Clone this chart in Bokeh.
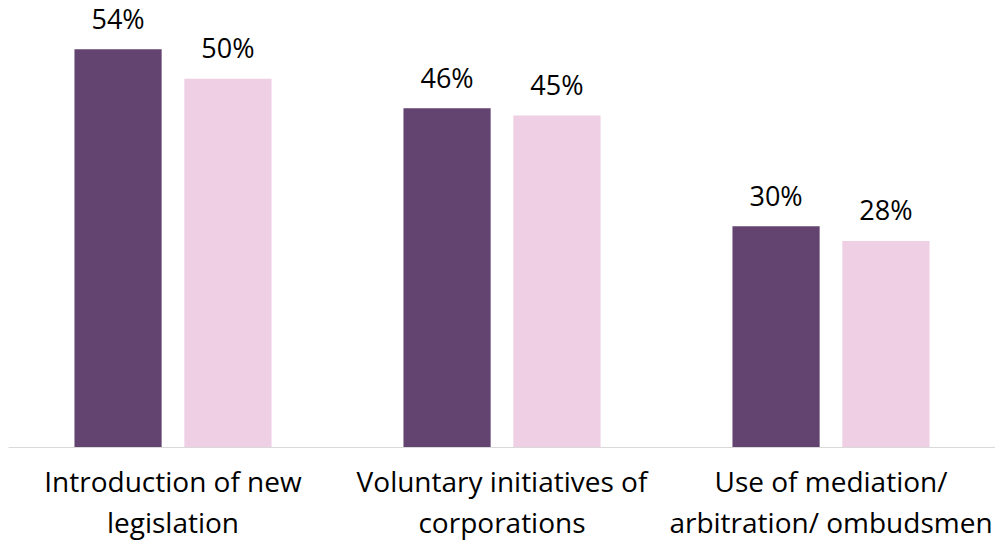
from bokeh.plotting import figure
from bokeh.models import ColumnDataSource, Range1d, FactorRange
from bokeh.transform import dodge
from bokeh.core.properties import value
from bokeh.embed import file_html
from bokeh.resources import INLINE

categories = ["Introduction of new\nlegislation",
              "Voluntary initiatives of\ncorporations",
              "Use of mediation/\narbitration/ ombudsmen"]
series_a = [54, 46, 30]
series_b = [50, 45, 28]

src = ColumnDataSource(dict(
    cat=categories,
    a=series_a,
    b=series_b,
    a_lbl=[f"{v}%" for v in series_a],
    b_lbl=[f"{v}%" for v in series_b],
))

p = figure(width=995, height=544, x_range=FactorRange(*categories),
           y_range=Range1d(0, 60.6), output_backend="svg",
           toolbar_location=None, min_border_left=8, min_border_right=0,
           min_border_top=0, min_border_bottom=97)
p.outline_line_color = None
p.background_fill_color = "white"
p.border_fill_color = "white"
p.xgrid.visible = False
p.ygrid.visible = False
p.yaxis.visible = False

dark = "#634370"
light = "#EECFE3"
off = 0.167
w = 0.265
p.vbar(x=dodge("cat", -off, range=p.x_range), top="a", width=w, bottom=0,
       source=src, fill_color=dark, line_color=None)
p.vbar(x=dodge("cat", off, range=p.x_range), top="b", width=w, bottom=0,
       source=src, fill_color=light, line_color=None)

fname = "Open Sans"
font = value(fname)
p.text(x=dodge("cat", -off, range=p.x_range), y="a", text="a_lbl", source=src,
       text_align="center", text_baseline="alphabetic", y_offset=-31,
       text_font=font, text_font_size="27px", text_color="#000000")
p.text(x=dodge("cat", off, range=p.x_range), y="b", text="b_lbl", source=src,
       text_align="center", text_baseline="alphabetic", y_offset=-31,
       text_font=font, text_font_size="27px", text_color="#000000")

ax = p.xaxis[0]
ax.axis_line_color = "#D9D9D9"
ax.axis_line_width = 1
ax.major_tick_line_color = None
ax.minor_tick_line_color = None
ax.major_tick_out = 0
ax.major_tick_in = 0
ax.major_label_text_font = fname
ax.major_label_text_font_size = "28px"
ax.major_label_text_line_height = 1.1
ax.major_label_text_color = "#000000"
ax.major_label_standoff = 14

open("out.html", "w").write(file_html(p, INLINE))
